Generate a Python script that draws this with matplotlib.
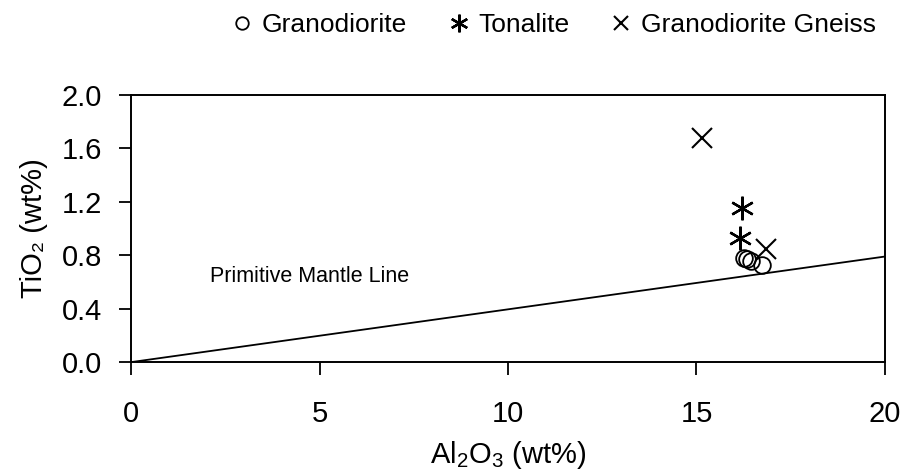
import matplotlib
matplotlib.use("Agg")
import matplotlib.pyplot as plt
import numpy as np

plt.rcParams['font.family'] = ['Liberation Sans', 'DejaVu Sans']
plt.rcParams['mathtext.fontset'] = 'custom'
plt.rcParams['mathtext.rm'] = 'Liberation Sans'

# data
grano_al = [16.25, 16.35, 16.45, 16.75]
grano_ti = [0.78, 0.77, 0.76, 0.73]
tonal_al = [16.2, 16.15]
tonal_ti = [1.15, 0.93]
gneiss_al = [15.15, 16.85]
gneiss_ti = [1.68, 0.85]

# primitive mantle line end points
pm_al = [0, 20]
pm_ti = [0, 0.79]

fig = plt.figure(figsize=(9.05, 4.74), dpi=100)
ax = fig.add_axes([0.1448, 0.236, 0.833, 0.564])

ax.plot(pm_al, pm_ti, color='black', lw=1.3, zorder=1)
h1, = ax.plot(grano_al, grano_ti, ls='none', marker='o', ms=12, mfc='none',
              mec='black', mew=1.3, label='Granodiorite')
h2, = ax.plot(tonal_al, tonal_ti, ls='none', marker=(6, 2, 0), ms=17,
              color='black', mew=1.7, label='Tonalite')
h3, = ax.plot(gneiss_al, gneiss_ti, ls='none', marker='x', ms=14,
              color='black', mew=1.5, label='Granodiorite Gneiss')

ax.text(2.1, 0.6, 'Primitive Mantle Line', fontsize=15.5)

ax.set_xlim(0, 20)
ax.set_ylim(0, 2.0)
ax.set_xticks([0, 5, 10, 15, 20])
ax.set_yticks([0.0, 0.4, 0.8, 1.2, 1.6, 2.0])
ax.set_yticklabels(['0.0', '0.4', '0.8', '1.2', '1.6', '2.0'])
ax.tick_params(axis='both', direction='out', length=9, width=1.3,
               labelsize=21)
ax.tick_params(axis='x', pad=18)
ax.tick_params(axis='y', pad=12)
for s in ax.spines.values():
    s.set_linewidth(1.4)

ax.set_xlabel(r'Al$_2$O$_3$ (wt%)', fontsize=21, labelpad=8)
ax.set_ylabel('TiO\u2082 (wt%)', fontsize=21, labelpad=10)

fig.legend(handles=[h1, h2, h3], loc='center', bbox_to_anchor=(0.612, 0.947),
           ncol=3, frameon=False, fontsize=19, handlelength=0.8,
           handletextpad=0.35, columnspacing=1.55, markerscale=0.75)

fig.savefig('out.png', dpi=100)
